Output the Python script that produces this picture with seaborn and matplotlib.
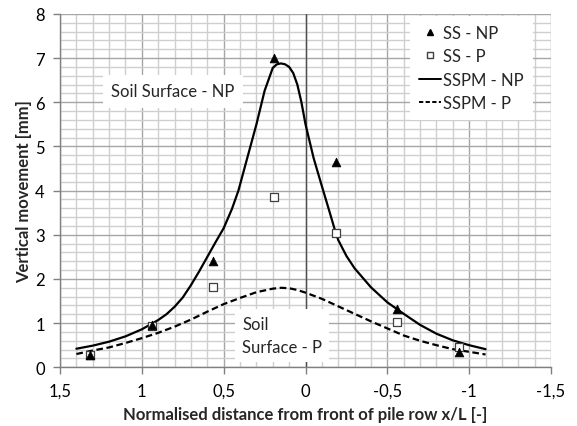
import numpy as np
import pandas as pd
import seaborn as sns
import matplotlib.pyplot as plt
from matplotlib.ticker import MultipleLocator, FixedLocator, FixedFormatter
from matplotlib.lines import Line2D

# ---------------------------------------------------------
# data
# ---------------------------------------------------------
ss_x = [1.317, 0.94, 0.567, 0.19, -0.187, -0.558, -0.935]
ss_np = [0.28, 0.96, 2.40, 7.00, 4.64, 1.33, 0.34]
ss_p = [0.27, 0.93, 1.82, 3.86, 3.05, 1.02, 0.45]

# model curves (SSPM), read point by point
sspm_np_x = [1.40, 1.30, 1.20, 1.10, 1.00, 0.90, 0.85, 0.80, 0.75, 0.70, 0.65,
             0.60, 0.55, 0.50, 0.45, 0.41, 0.35, 0.30, 0.25, 0.20, 0.175, 0.15,
             0.125, 0.10, 0.075, 0.05, 0.025, 0.00, -0.05, -0.10, -0.15, -0.18,
             -0.20, -0.25, -0.30, -0.40, -0.50, -0.60, -0.70, -0.80, -0.90,
             -1.00, -1.10]
sspm_np_y = [0.42, 0.49, 0.58, 0.70, 0.86, 1.07, 1.20, 1.37, 1.58, 1.86, 2.17,
             2.50, 2.83, 3.15, 3.58, 4.00, 4.82, 5.50, 6.26, 6.78, 6.86, 6.88,
             6.86, 6.80, 6.66, 6.40, 6.00, 5.50, 4.73, 4.10, 3.48, 3.10,
             2.88, 2.52, 2.24, 1.81, 1.47, 1.21, 0.96, 0.76, 0.61,
             0.50, 0.41]

sspm_p_x = [1.40, 1.30, 1.20, 1.10, 1.00, 0.90, 0.80, 0.70, 0.60, 0.50, 0.40,
            0.30, 0.20, 0.15, 0.10, 0.05, 0.00, -0.10, -0.20, -0.30, -0.40, -0.50,
            -0.60, -0.70, -0.80, -0.90, -1.00, -1.10]
sspm_p_y = [0.30, 0.38, 0.45, 0.55, 0.66, 0.78, 0.92, 1.08, 1.26, 1.43, 1.57,
            1.70, 1.78, 1.80, 1.79, 1.75, 1.69, 1.55, 1.38, 1.21, 1.04, 0.88,
            0.72, 0.60, 0.50, 0.41, 0.35, 0.29]

x_ticks = [1.5, 1.0, 0.5, 0.0, -0.5, -1.0, -1.5]
x_tick_labels = ['1,5', '1', '0,5', '0', '-0,5', '-1', '-1,5']
y_ticks = [0, 1, 2, 3, 4, 5, 6, 7, 8]

# ---------------------------------------------------------
# plot
# ---------------------------------------------------------
sns.set_theme(style='white')
plt.rcParams['font.family'] = ['Lato', 'DejaVu Sans']

df_ss = pd.DataFrame({'x': ss_x, 'np': ss_np, 'p': ss_p})
df_np = pd.DataFrame({'x': sspm_np_x, 'y': sspm_np_y})
df_p = pd.DataFrame({'x': sspm_p_x, 'y': sspm_p_y})

fig = plt.figure(figsize=(5.77, 4.27), dpi=100)
ax = fig.add_axes([0.104, 0.1375, 0.851, 0.8275])

# grid
ax.xaxis.set_minor_locator(MultipleLocator(0.1))
ax.yaxis.set_minor_locator(MultipleLocator(0.2))
ax.grid(which='minor', color='#cfcfcf', linewidth=1.0)
ax.grid(which='major', color='#a6a6a6', linewidth=1.0)
ax.set_axisbelow(True)
ax.axvline(0, color='#4d4d4d', linewidth=1.0, zorder=1)

sns.lineplot(data=df_np, x='x', y='y', ax=ax, color='black', linewidth=1.6,
             sort=False, zorder=3)
sns.lineplot(data=df_p, x='x', y='y', ax=ax, color='black', linewidth=1.6,
             linestyle=(0, (3, 1.6)), sort=False, zorder=3)
sns.scatterplot(data=df_ss, x='x', y='p', ax=ax, marker='s', s=28,
                facecolor='white', edgecolor='#404040', linewidth=0.9, zorder=4)
sns.scatterplot(data=df_ss, x='x', y='np', ax=ax, marker='^', s=40,
                color='black', edgecolor='black', linewidth=0.5, zorder=5)

ax.set_xlim(1.5, -1.5)
ax.set_ylim(0, 8)
ax.xaxis.set_major_locator(FixedLocator(x_ticks))
ax.xaxis.set_major_formatter(FixedFormatter(x_tick_labels))
ax.set_yticks(y_ticks)

for side in ['top', 'right']:
    ax.spines[side].set_visible(False)
for side in ['left', 'bottom']:
    ax.spines[side].set_color('#808080')
    ax.spines[side].set_linewidth(1.0)
ax.tick_params(which='major', direction='out', length=5, width=1.0,
               color='#808080', labelsize=12, labelcolor='black', pad=6,
               bottom=True, left=True)
ax.tick_params(which='minor', length=0)

ax.set_xlabel('Normalised distance from front of pile row x/L [-]',
              fontsize=12, fontweight='bold', labelpad=5)
ax.set_ylabel('Vertical movement [mm]', fontsize=12, fontweight='bold',
              labelpad=2)

# text boxes
ax.text(0.81, 6.25, 'Soil Surface - NP', fontsize=12, ha='center', va='center',
        bbox=dict(facecolor='white', edgecolor='none', pad=6), zorder=6)
ax.text(0.388, 0.72, 'Soil\nSurface - P', fontsize=12, ha='left', va='center',
        linespacing=1.6,
        bbox=dict(facecolor='white', edgecolor='none', pad=5), zorder=6)

handles = [
    Line2D([], [], marker='^', color='black', linestyle='none', markersize=5),
    Line2D([], [], marker='s', markerfacecolor='white', markeredgecolor='#404040',
           linestyle='none', markersize=4.5),
    Line2D([], [], color='black', linewidth=1.4),
    Line2D([], [], color='black', linewidth=1.4, linestyle=(0, (2.2, 1.2))),
]
labels = ['SS - NP', 'SS - P', 'SSPM - NP', 'SSPM - P']
leg = ax.legend(handles, labels, loc='upper right', bbox_to_anchor=(0.967, 1.0),
                frameon=True, fancybox=False, edgecolor='none',
                facecolor='white', framealpha=1, fontsize=12,
                handlelength=1.3, handletextpad=0.15, labelspacing=0.45,
                borderpad=0.55, borderaxespad=0.1)

fig.savefig('out.png', dpi=100)
